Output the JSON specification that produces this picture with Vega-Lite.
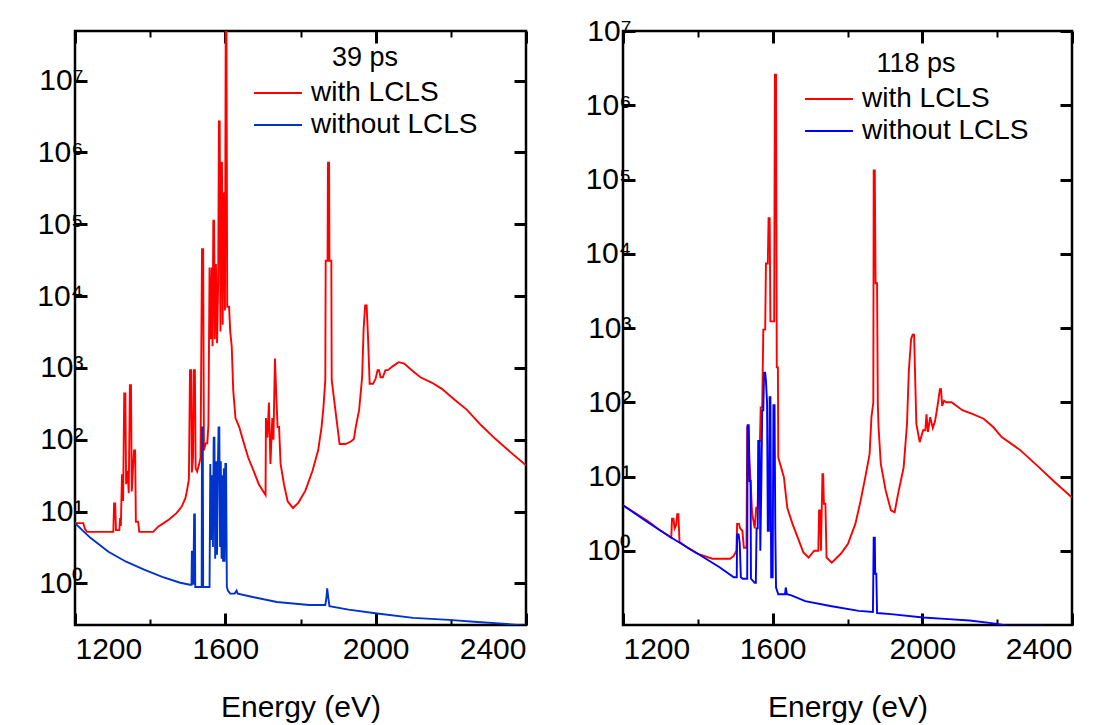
{
"$schema": "https://vega.github.io/schema/vega-lite/v6.json",
"background": "white",
"padding": {"left": 35, "top": 14, "right": 5, "bottom": 0},
"bounds": "flush",
"spacing": 97,
"resolve": {"scale": {"x": "independent", "y": "independent", "color": "independent"}, "legend": {"color": "independent"}},
"config": {
  "font": "Liberation Sans",
  "view": {"stroke": "black", "strokeWidth": 2.5},
  "axis": {"domain": false, "grid": false, "tickColor": "black", "tickCap": "butt", "labelColor": "black", "labelFont": "Liberation Sans", "labelFontSize": 30, "titleFont": "Liberation Sans", "titleFontSize": 30, "titleFontWeight": "normal", "titleColor": "black"},
  "legend": {"labelFont": "Liberation Sans", "titleFont": "Liberation Sans", "labelColor": "black", "titleColor": "black"}
},
"datasets": {
"left": [
{"E":1200,"I":6.9,"s":"with LCLS"},{"E":1222,"I":6.9,"s":"with LCLS"},{"E":1226,"I":5.8,"s":"with LCLS"},{"E":1232,"I":5.2,"s":"with LCLS"},{"E":1298,"I":5.2,"s":"with LCLS"},{"E":1302,"I":5.2,"s":"with LCLS"},{"E":1304,"I":13,"s":"with LCLS"},{"E":1307,"I":13,"s":"with LCLS"},{"E":1309,"I":5.5,"s":"with LCLS"},{"E":1318,"I":5.5,"s":"with LCLS"},{"E":1320,"I":8.1,"s":"with LCLS"},{"E":1322,"I":6.3,"s":"with LCLS"},{"E":1325,"I":33,"s":"with LCLS"},{"E":1328,"I":14,"s":"with LCLS"},{"E":1331,"I":440,"s":"with LCLS"},{"E":1334,"I":440,"s":"with LCLS"},{"E":1336,"I":24,"s":"with LCLS"},{"E":1340,"I":37,"s":"with LCLS"},{"E":1343,"I":18,"s":"with LCLS"},{"E":1346,"I":575,"s":"with LCLS"},{"E":1349,"I":575,"s":"with LCLS"},{"E":1351,"I":19,"s":"with LCLS"},{"E":1354,"I":37,"s":"with LCLS"},{"E":1357,"I":71,"s":"with LCLS"},{"E":1360,"I":71,"s":"with LCLS"},{"E":1362,"I":7.2,"s":"with LCLS"},{"E":1368,"I":7.2,"s":"with LCLS"},{"E":1371,"I":5.2,"s":"with LCLS"},{"E":1408,"I":5.2,"s":"with LCLS"},{"E":1422,"I":6.2,"s":"with LCLS"},{"E":1436,"I":6.9,"s":"with LCLS"},{"E":1451,"I":7.8,"s":"with LCLS"},{"E":1470,"I":9.5,"s":"with LCLS"},{"E":1484,"I":11.7,"s":"with LCLS"},{"E":1494,"I":15.5,"s":"with LCLS"},{"E":1499,"I":21,"s":"with LCLS"},{"E":1503,"I":28,"s":"with LCLS"},{"E":1506,"I":930,"s":"with LCLS"},{"E":1509,"I":930,"s":"with LCLS"},{"E":1511,"I":35,"s":"with LCLS"},{"E":1514,"I":56,"s":"with LCLS"},{"E":1516,"I":930,"s":"with LCLS"},{"E":1519,"I":930,"s":"with LCLS"},{"E":1521,"I":40,"s":"with LCLS"},{"E":1525,"I":36,"s":"with LCLS"},{"E":1530,"I":45,"s":"with LCLS"},{"E":1534,"I":56,"s":"with LCLS"},{"E":1538,"I":45000,"s":"with LCLS"},{"E":1541,"I":45000,"s":"with LCLS"},{"E":1543,"I":71,"s":"with LCLS"},{"E":1548,"I":89,"s":"with LCLS"},{"E":1552,"I":89,"s":"with LCLS"},{"E":1555,"I":160,"s":"with LCLS"},{"E":1558,"I":25000,"s":"with LCLS"},{"E":1561,"I":2500,"s":"with LCLS"},{"E":1564,"I":25000,"s":"with LCLS"},{"E":1566,"I":2000,"s":"with LCLS"},{"E":1568,"I":112000,"s":"with LCLS"},{"E":1570,"I":112000,"s":"with LCLS"},{"E":1572,"I":2500,"s":"with LCLS"},{"E":1575,"I":28000,"s":"with LCLS"},{"E":1578,"I":2200,"s":"with LCLS"},{"E":1581,"I":16000,"s":"with LCLS"},{"E":1583,"I":2700000,"s":"with LCLS"},{"E":1585,"I":2700000,"s":"with LCLS"},{"E":1587,"I":3200,"s":"with LCLS"},{"E":1589,"I":720000,"s":"with LCLS"},{"E":1591,"I":720000,"s":"with LCLS"},{"E":1593,"I":4000,"s":"with LCLS"},{"E":1595,"I":270000,"s":"with LCLS"},{"E":1597,"I":270000,"s":"with LCLS"},{"E":1599,"I":6300,"s":"with LCLS"},{"E":1601,"I":48000000,"s":"with LCLS"},{"E":1603,"I":48000000,"s":"with LCLS"},{"E":1605,"I":7100,"s":"with LCLS"},{"E":1610,"I":7100,"s":"with LCLS"},{"E":1613,"I":3200,"s":"with LCLS"},{"E":1617,"I":2000,"s":"with LCLS"},{"E":1621,"I":490,"s":"with LCLS"},{"E":1627,"I":200,"s":"with LCLS"},{"E":1637,"I":150,"s":"with LCLS"},{"E":1647,"I":98,"s":"with LCLS"},{"E":1661,"I":56,"s":"with LCLS"},{"E":1675,"I":37,"s":"with LCLS"},{"E":1689,"I":24,"s":"with LCLS"},{"E":1704,"I":18,"s":"with LCLS"},{"E":1707,"I":17,"s":"with LCLS"},{"E":1708,"I":200,"s":"with LCLS"},{"E":1712,"I":107,"s":"with LCLS"},{"E":1716,"I":330,"s":"with LCLS"},{"E":1720,"I":46,"s":"with LCLS"},{"E":1725,"I":200,"s":"with LCLS"},{"E":1728,"I":100,"s":"with LCLS"},{"E":1732,"I":1350,"s":"with LCLS"},{"E":1735,"I":490,"s":"with LCLS"},{"E":1739,"I":150,"s":"with LCLS"},{"E":1743,"I":150,"s":"with LCLS"},{"E":1747,"I":46,"s":"with LCLS"},{"E":1756,"I":24,"s":"with LCLS"},{"E":1766,"I":13.8,"s":"with LCLS"},{"E":1780,"I":11.2,"s":"with LCLS"},{"E":1794,"I":13.2,"s":"with LCLS"},{"E":1813,"I":19.5,"s":"with LCLS"},{"E":1832,"I":37,"s":"with LCLS"},{"E":1847,"I":71,"s":"with LCLS"},{"E":1856,"I":150,"s":"with LCLS"},{"E":1861,"I":280,"s":"with LCLS"},{"E":1866,"I":680,"s":"with LCLS"},{"E":1867,"I":31000,"s":"with LCLS"},{"E":1872,"I":31000,"s":"with LCLS"},{"E":1873,"I":720000,"s":"with LCLS"},{"E":1876,"I":720000,"s":"with LCLS"},{"E":1877,"I":31000,"s":"with LCLS"},{"E":1882,"I":31000,"s":"with LCLS"},{"E":1883,"I":680,"s":"with LCLS"},{"E":1894,"I":230,"s":"with LCLS"},{"E":1904,"I":87,"s":"with LCLS"},{"E":1920,"I":87,"s":"with LCLS"},{"E":1935,"I":95,"s":"with LCLS"},{"E":1942,"I":102,"s":"with LCLS"},{"E":1947,"I":150,"s":"with LCLS"},{"E":1956,"I":260,"s":"with LCLS"},{"E":1964,"I":740,"s":"with LCLS"},{"E":1968,"I":3500,"s":"with LCLS"},{"E":1972,"I":7400,"s":"with LCLS"},{"E":1976,"I":7400,"s":"with LCLS"},{"E":1980,"I":2400,"s":"with LCLS"},{"E":1984,"I":600,"s":"with LCLS"},{"E":1993,"I":600,"s":"with LCLS"},{"E":2000,"I":710,"s":"with LCLS"},{"E":2005,"I":930,"s":"with LCLS"},{"E":2009,"I":930,"s":"with LCLS"},{"E":2013,"I":740,"s":"with LCLS"},{"E":2019,"I":740,"s":"with LCLS"},{"E":2026,"I":930,"s":"with LCLS"},{"E":2033,"I":930,"s":"with LCLS"},{"E":2045,"I":1050,"s":"with LCLS"},{"E":2061,"I":1200,"s":"with LCLS"},{"E":2076,"I":1150,"s":"with LCLS"},{"E":2100,"I":890,"s":"with LCLS"},{"E":2119,"I":740,"s":"with LCLS"},{"E":2150,"I":620,"s":"with LCLS"},{"E":2176,"I":510,"s":"with LCLS"},{"E":2210,"I":360,"s":"with LCLS"},{"E":2243,"I":260,"s":"with LCLS"},{"E":2280,"I":160,"s":"with LCLS"},{"E":2319,"I":102,"s":"with LCLS"},{"E":2360,"I":66,"s":"with LCLS"},{"E":2400,"I":44,"s":"with LCLS"},
{"E":1200,"I":6.9,"s":"without LCLS"},{"E":1241,"I":4.3,"s":"without LCLS"},{"E":1289,"I":2.75,"s":"without LCLS"},{"E":1336,"I":2.0,"s":"without LCLS"},{"E":1384,"I":1.55,"s":"without LCLS"},{"E":1432,"I":1.23,"s":"without LCLS"},{"E":1480,"I":1.02,"s":"without LCLS"},{"E":1506,"I":0.955,"s":"without LCLS"},{"E":1510,"I":0.955,"s":"without LCLS"},{"E":1511,"I":2.75,"s":"without LCLS"},{"E":1514,"I":2.75,"s":"without LCLS"},{"E":1515,"I":0.955,"s":"without LCLS"},{"E":1517,"I":9.1,"s":"without LCLS"},{"E":1519,"I":9.1,"s":"without LCLS"},{"E":1520,"I":0.89,"s":"without LCLS"},{"E":1537,"I":0.89,"s":"without LCLS"},{"E":1538,"I":148,"s":"without LCLS"},{"E":1540,"I":148,"s":"without LCLS"},{"E":1541,"I":0.89,"s":"without LCLS"},{"E":1558,"I":0.89,"s":"without LCLS"},{"E":1560,"I":46,"s":"without LCLS"},{"E":1562,"I":4.0,"s":"without LCLS"},{"E":1565,"I":32,"s":"without LCLS"},{"E":1567,"I":3.2,"s":"without LCLS"},{"E":1569,"I":107,"s":"without LCLS"},{"E":1571,"I":107,"s":"without LCLS"},{"E":1573,"I":2.2,"s":"without LCLS"},{"E":1576,"I":50,"s":"without LCLS"},{"E":1578,"I":2.5,"s":"without LCLS"},{"E":1580,"I":35,"s":"without LCLS"},{"E":1582,"I":148,"s":"without LCLS"},{"E":1584,"I":148,"s":"without LCLS"},{"E":1586,"I":3.2,"s":"without LCLS"},{"E":1588,"I":50,"s":"without LCLS"},{"E":1590,"I":2.2,"s":"without LCLS"},{"E":1592,"I":32,"s":"without LCLS"},{"E":1594,"I":2.0,"s":"without LCLS"},{"E":1596,"I":40,"s":"without LCLS"},{"E":1598,"I":2.0,"s":"without LCLS"},{"E":1600,"I":46,"s":"without LCLS"},{"E":1602,"I":46,"s":"without LCLS"},{"E":1604,"I":0.89,"s":"without LCLS"},{"E":1607,"I":0.79,"s":"without LCLS"},{"E":1613,"I":0.72,"s":"without LCLS"},{"E":1625,"I":0.72,"s":"without LCLS"},{"E":1630,"I":0.79,"s":"without LCLS"},{"E":1633,"I":0.72,"s":"without LCLS"},{"E":1670,"I":0.65,"s":"without LCLS"},{"E":1737,"I":0.55,"s":"without LCLS"},{"E":1823,"I":0.5,"s":"without LCLS"},{"E":1866,"I":0.5,"s":"without LCLS"},{"E":1869,"I":0.63,"s":"without LCLS"},{"E":1871,"I":0.85,"s":"without LCLS"},{"E":1874,"I":0.63,"s":"without LCLS"},{"E":1877,"I":0.48,"s":"without LCLS"},{"E":1928,"I":0.43,"s":"without LCLS"},{"E":2004,"I":0.38,"s":"without LCLS"},{"E":2100,"I":0.33,"s":"without LCLS"},{"E":2195,"I":0.31,"s":"without LCLS"},{"E":2271,"I":0.29,"s":"without LCLS"},{"E":2338,"I":0.275,"s":"without LCLS"},{"E":2400,"I":0.257,"s":"without LCLS"}
],
"right": [
{"E":1200,"I":4.1,"s":"with LCLS"},{"E":1238,"I":3.1,"s":"with LCLS"},{"E":1267,"I":2.5,"s":"with LCLS"},{"E":1295,"I":1.95,"s":"with LCLS"},{"E":1329,"I":1.5,"s":"with LCLS"},{"E":1331,"I":2.7,"s":"with LCLS"},{"E":1335,"I":2.7,"s":"with LCLS"},{"E":1338,"I":2.0,"s":"with LCLS"},{"E":1342,"I":2.2,"s":"with LCLS"},{"E":1345,"I":3.1,"s":"with LCLS"},{"E":1348,"I":3.1,"s":"with LCLS"},{"E":1351,"I":1.32,"s":"with LCLS"},{"E":1372,"I":1.1,"s":"with LCLS"},{"E":1400,"I":0.91,"s":"with LCLS"},{"E":1439,"I":0.78,"s":"with LCLS"},{"E":1486,"I":0.78,"s":"with LCLS"},{"E":1496,"I":0.85,"s":"with LCLS"},{"E":1503,"I":1.0,"s":"with LCLS"},{"E":1505,"I":2.3,"s":"with LCLS"},{"E":1510,"I":2.3,"s":"with LCLS"},{"E":1513,"I":2.0,"s":"with LCLS"},{"E":1519,"I":1.86,"s":"with LCLS"},{"E":1523,"I":1.1,"s":"with LCLS"},{"E":1530,"I":1.1,"s":"with LCLS"},{"E":1532,"I":46,"s":"with LCLS"},{"E":1535,"I":46,"s":"with LCLS"},{"E":1538,"I":16,"s":"with LCLS"},{"E":1541,"I":8.7,"s":"with LCLS"},{"E":1545,"I":3.2,"s":"with LCLS"},{"E":1552,"I":2.0,"s":"with LCLS"},{"E":1556,"I":3.8,"s":"with LCLS"},{"E":1560,"I":3.8,"s":"with LCLS"},{"E":1562,"I":30,"s":"with LCLS"},{"E":1566,"I":30,"s":"with LCLS"},{"E":1568,"I":85,"s":"with LCLS"},{"E":1572,"I":85,"s":"with LCLS"},{"E":1575,"I":950,"s":"with LCLS"},{"E":1580,"I":950,"s":"with LCLS"},{"E":1582,"I":7400,"s":"with LCLS"},{"E":1587,"I":7400,"s":"with LCLS"},{"E":1589,"I":30000,"s":"with LCLS"},{"E":1592,"I":30000,"s":"with LCLS"},{"E":1594,"I":1230,"s":"with LCLS"},{"E":1604,"I":1230,"s":"with LCLS"},{"E":1606,"I":2570000,"s":"with LCLS"},{"E":1609,"I":2570000,"s":"with LCLS"},{"E":1611,"I":295,"s":"with LCLS"},{"E":1614,"I":295,"s":"with LCLS"},{"E":1615,"I":18,"s":"with LCLS"},{"E":1630,"I":9.8,"s":"with LCLS"},{"E":1639,"I":3.8,"s":"with LCLS"},{"E":1653,"I":2.3,"s":"with LCLS"},{"E":1667,"I":1.5,"s":"with LCLS"},{"E":1682,"I":0.95,"s":"with LCLS"},{"E":1696,"I":0.81,"s":"with LCLS"},{"E":1711,"I":1.0,"s":"with LCLS"},{"E":1722,"I":1.0,"s":"with LCLS"},{"E":1724,"I":3.5,"s":"with LCLS"},{"E":1727,"I":3.5,"s":"with LCLS"},{"E":1729,"I":1.0,"s":"with LCLS"},{"E":1733,"I":10.7,"s":"with LCLS"},{"E":1735,"I":10.7,"s":"with LCLS"},{"E":1737,"I":4.3,"s":"with LCLS"},{"E":1741,"I":4.3,"s":"with LCLS"},{"E":1744,"I":0.81,"s":"with LCLS"},{"E":1758,"I":0.69,"s":"with LCLS"},{"E":1782,"I":0.91,"s":"with LCLS"},{"E":1801,"I":1.23,"s":"with LCLS"},{"E":1821,"I":2.3,"s":"with LCLS"},{"E":1835,"I":4.7,"s":"with LCLS"},{"E":1849,"I":10.7,"s":"with LCLS"},{"E":1859,"I":20,"s":"with LCLS"},{"E":1864,"I":63,"s":"with LCLS"},{"E":1869,"I":100,"s":"with LCLS"},{"E":1870,"I":132000,"s":"with LCLS"},{"E":1873,"I":132000,"s":"with LCLS"},{"E":1875,"I":4000,"s":"with LCLS"},{"E":1879,"I":4000,"s":"with LCLS"},{"E":1881,"I":95,"s":"with LCLS"},{"E":1883,"I":46,"s":"with LCLS"},{"E":1889,"I":14.8,"s":"with LCLS"},{"E":1902,"I":6.5,"s":"with LCLS"},{"E":1916,"I":3.5,"s":"with LCLS"},{"E":1926,"I":3.3,"s":"with LCLS"},{"E":1935,"I":5.8,"s":"with LCLS"},{"E":1950,"I":13.2,"s":"with LCLS"},{"E":1959,"I":51,"s":"with LCLS"},{"E":1964,"I":270,"s":"with LCLS"},{"E":1970,"I":710,"s":"with LCLS"},{"E":1974,"I":810,"s":"with LCLS"},{"E":1978,"I":810,"s":"with LCLS"},{"E":1981,"I":200,"s":"with LCLS"},{"E":1984,"I":51,"s":"with LCLS"},{"E":1993,"I":29,"s":"with LCLS"},{"E":2002,"I":42,"s":"with LCLS"},{"E":2008,"I":42,"s":"with LCLS"},{"E":2011,"I":69,"s":"with LCLS"},{"E":2015,"I":40,"s":"with LCLS"},{"E":2021,"I":63,"s":"with LCLS"},{"E":2028,"I":45,"s":"with LCLS"},{"E":2034,"I":56,"s":"with LCLS"},{"E":2040,"I":85,"s":"with LCLS"},{"E":2047,"I":150,"s":"with LCLS"},{"E":2050,"I":150,"s":"with LCLS"},{"E":2053,"I":89,"s":"with LCLS"},{"E":2058,"I":105,"s":"with LCLS"},{"E":2064,"I":100,"s":"with LCLS"},{"E":2078,"I":100,"s":"with LCLS"},{"E":2107,"I":78,"s":"with LCLS"},{"E":2135,"I":69,"s":"with LCLS"},{"E":2164,"I":60,"s":"with LCLS"},{"E":2190,"I":46,"s":"with LCLS"},{"E":2212,"I":34,"s":"with LCLS"},{"E":2260,"I":23,"s":"with LCLS"},{"E":2307,"I":14,"s":"with LCLS"},{"E":2355,"I":8.3,"s":"with LCLS"},{"E":2400,"I":5.2,"s":"with LCLS"},
{"E":1200,"I":4.1,"s":"without LCLS"},{"E":1267,"I":2.4,"s":"without LCLS"},{"E":1334,"I":1.45,"s":"without LCLS"},{"E":1400,"I":0.91,"s":"without LCLS"},{"E":1458,"I":0.6,"s":"without LCLS"},{"E":1496,"I":0.44,"s":"without LCLS"},{"E":1504,"I":0.44,"s":"without LCLS"},{"E":1505,"I":1.66,"s":"without LCLS"},{"E":1509,"I":1.66,"s":"without LCLS"},{"E":1512,"I":1.26,"s":"without LCLS"},{"E":1515,"I":0.44,"s":"without LCLS"},{"E":1520,"I":0.42,"s":"without LCLS"},{"E":1532,"I":0.42,"s":"without LCLS"},{"E":1533,"I":49,"s":"without LCLS"},{"E":1536,"I":49,"s":"without LCLS"},{"E":1538,"I":8.7,"s":"without LCLS"},{"E":1541,"I":8.7,"s":"without LCLS"},{"E":1542,"I":0.42,"s":"without LCLS"},{"E":1552,"I":0.37,"s":"without LCLS"},{"E":1555,"I":0.37,"s":"without LCLS"},{"E":1557,"I":2.0,"s":"without LCLS"},{"E":1560,"I":2.0,"s":"without LCLS"},{"E":1562,"I":30,"s":"without LCLS"},{"E":1565,"I":30,"s":"without LCLS"},{"E":1567,"I":1.0,"s":"without LCLS"},{"E":1570,"I":10,"s":"without LCLS"},{"E":1572,"I":78,"s":"without LCLS"},{"E":1575,"I":78,"s":"without LCLS"},{"E":1577,"I":250,"s":"without LCLS"},{"E":1580,"I":250,"s":"without LCLS"},{"E":1582,"I":195,"s":"without LCLS"},{"E":1585,"I":100,"s":"without LCLS"},{"E":1587,"I":1.86,"s":"without LCLS"},{"E":1590,"I":1.86,"s":"without LCLS"},{"E":1592,"I":117,"s":"without LCLS"},{"E":1594,"I":117,"s":"without LCLS"},{"E":1596,"I":0.44,"s":"without LCLS"},{"E":1600,"I":0.44,"s":"without LCLS"},{"E":1602,"I":91,"s":"without LCLS"},{"E":1605,"I":91,"s":"without LCLS"},{"E":1607,"I":2.0,"s":"without LCLS"},{"E":1609,"I":0.32,"s":"without LCLS"},{"E":1615,"I":0.26,"s":"without LCLS"},{"E":1633,"I":0.26,"s":"without LCLS"},{"E":1635,"I":0.32,"s":"without LCLS"},{"E":1638,"I":0.26,"s":"without LCLS"},{"E":1650,"I":0.25,"s":"without LCLS"},{"E":1687,"I":0.21,"s":"without LCLS"},{"E":1754,"I":0.18,"s":"without LCLS"},{"E":1830,"I":0.155,"s":"without LCLS"},{"E":1868,"I":0.15,"s":"without LCLS"},{"E":1870,"I":1.5,"s":"without LCLS"},{"E":1873,"I":1.5,"s":"without LCLS"},{"E":1874,"I":0.49,"s":"without LCLS"},{"E":1877,"I":0.49,"s":"without LCLS"},{"E":1879,"I":0.145,"s":"without LCLS"},{"E":1916,"I":0.14,"s":"without LCLS"},{"E":2002,"I":0.126,"s":"without LCLS"},{"E":2070,"I":0.12,"s":"without LCLS"},{"E":2126,"I":0.115,"s":"without LCLS"},{"E":2180,"I":0.107,"s":"without LCLS"},{"E":2231,"I":0.098,"s":"without LCLS"},{"E":2322,"I":0.098,"s":"without LCLS"}
]
},
"hconcat": [
{
  "width": 451, "height": 594,
  "data": {"name": "left"},
  "resolve": {"axis": {"x": "independent", "y": "independent"}},
  "layer": [
    {"mark": {"type": "point", "opacity": 0},
     "encoding": {
       "x": {"field": "E", "type": "quantitative", "scale": {"domain": [1200, 2400], "nice": false, "zero": false}, "axis": {"orient": "top", "values": [1200, 1600, 2000, 2400], "labels": false, "tickSize": -12, "tickWidth": 3, "title": null}},
       "y": {"field": "I", "type": "quantitative", "scale": {"type": "log", "domain": [0.263, 49000000], "nice": false}, "axis": {"orient": "right", "values": [1, 10, 100, 1000, 10000, 100000, 1000000, 10000000], "labels": false, "tickSize": -12, "tickWidth": 3, "title": null}}}},
    {"mark": {"type": "point", "opacity": 0},
     "encoding": {
       "x": {"field": "E", "type": "quantitative", "scale": {"domain": [1200, 2400], "nice": false, "zero": false}, "axis": {"orient": "top", "values": [1400, 1800, 2200], "labels": false, "tickSize": -6, "tickWidth": 2, "title": null}},
       "y": {"field": "I", "type": "quantitative", "scale": {"type": "log", "domain": [0.263, 49000000], "nice": false}, "axis": null}}},
    {"mark": {"type": "point", "opacity": 0},
     "encoding": {
       "x": {"field": "E", "type": "quantitative", "scale": {"domain": [1200, 2400], "nice": false, "zero": false}, "axis": {"orient": "bottom", "values": [1400, 1800, 2200], "labels": false, "tickSize": -6, "tickWidth": 2, "title": null}},
       "y": {"field": "I", "type": "quantitative", "scale": {"type": "log", "domain": [0.263, 49000000], "nice": false}, "axis": null}}},
    {"mark": {"type": "line", "strokeWidth": 1.9, "clip": true},
     "encoding": {
       "x": {"field": "E", "type": "quantitative", "scale": {"domain": [1200, 2400], "nice": false, "zero": false}, "axis": {"orient": "bottom", "values": [1200, 1600, 2000, 2400], "format": "d", "tickSize": -12, "tickWidth": 3, "labelPadding": 21, "title": "Energy (eV)", "titlePadding": 28}},
       "y": {"field": "I", "type": "quantitative", "scale": {"type": "log", "domain": [0.263, 49000000], "nice": false}, "axis": {"orient": "left", "values": [1, 10, 100, 1000, 10000, 100000, 1000000, 10000000], "tickSize": -12, "tickWidth": 3, "labelPadding": 4, "title": null, "labelExpr": "'10' + ['⁰','¹','²','³','⁴','⁵','⁶','⁷'][round(log(datum.value)/LN10)]"}},
       "color": {"field": "s", "type": "nominal", "scale": {"domain": ["with LCLS", "without LCLS"], "range": ["#ff0000", "#0033cc"]},
         "legend": {"title": "39 ps", "orient": "none", "legendX": 178, "legendY": 14, "symbolType": "stroke", "symbolStrokeWidth": 2, "symbolSize": 2300, "labelFontSize": 28, "labelLimit": 400, "titleFontSize": 27, "titleFontWeight": "normal", "titleAnchor": "middle", "labelOffset": 8, "rowPadding": 0, "clipHeight": 32, "padding": 0}}}}
  ]
},
{
  "width": 449, "height": 594,
  "data": {"name": "right"},
  "resolve": {"axis": {"x": "independent", "y": "independent"}},
  "layer": [
    {"mark": {"type": "point", "opacity": 0},
     "encoding": {
       "x": {"field": "E", "type": "quantitative", "scale": {"domain": [1200, 2400], "nice": false, "zero": false}, "axis": {"orient": "top", "values": [1200, 1600, 2000, 2400], "labels": false, "tickSize": -12, "tickWidth": 3, "title": null}},
       "y": {"field": "I", "type": "quantitative", "scale": {"type": "log", "domain": [0.1, 10000000], "nice": false}, "axis": {"orient": "right", "values": [1, 10, 100, 1000, 10000, 100000, 1000000, 10000000], "labels": false, "tickSize": -12, "tickWidth": 3, "title": null}}}},
    {"mark": {"type": "point", "opacity": 0},
     "encoding": {
       "x": {"field": "E", "type": "quantitative", "scale": {"domain": [1200, 2400], "nice": false, "zero": false}, "axis": {"orient": "top", "values": [1400, 1800, 2200], "labels": false, "tickSize": -6, "tickWidth": 2, "title": null}},
       "y": {"field": "I", "type": "quantitative", "scale": {"type": "log", "domain": [0.1, 10000000], "nice": false}, "axis": null}}},
    {"mark": {"type": "point", "opacity": 0},
     "encoding": {
       "x": {"field": "E", "type": "quantitative", "scale": {"domain": [1200, 2400], "nice": false, "zero": false}, "axis": {"orient": "bottom", "values": [1400, 1800, 2200], "labels": false, "tickSize": -6, "tickWidth": 2, "title": null}},
       "y": {"field": "I", "type": "quantitative", "scale": {"type": "log", "domain": [0.1, 10000000], "nice": false}, "axis": null}}},
    {"mark": {"type": "line", "strokeWidth": 1.9, "clip": true},
     "encoding": {
       "x": {"field": "E", "type": "quantitative", "scale": {"domain": [1200, 2400], "nice": false, "zero": false}, "axis": {"orient": "bottom", "values": [1200, 1600, 2000, 2400], "format": "d", "tickSize": -12, "tickWidth": 3, "labelPadding": 21, "title": "Energy (eV)", "titlePadding": 28}},
       "y": {"field": "I", "type": "quantitative", "scale": {"type": "log", "domain": [0.1, 10000000], "nice": false}, "axis": {"orient": "left", "values": [1, 10, 100, 1000, 10000, 100000, 1000000, 10000000], "tickSize": -12, "tickWidth": 3, "labelPadding": 4, "title": null, "labelExpr": "'10' + ['⁰','¹','²','³','⁴','⁵','⁶','⁷'][round(log(datum.value)/LN10)]"}},
       "color": {"field": "s", "type": "nominal", "scale": {"domain": ["with LCLS", "without LCLS"], "range": ["#ff0000", "#0000ff"]},
         "legend": {"title": "118 ps", "orient": "none", "legendX": 181, "legendY": 20, "symbolType": "stroke", "symbolStrokeWidth": 2, "symbolSize": 2300, "labelFontSize": 28, "labelLimit": 400, "titleFontSize": 27, "titleFontWeight": "normal", "titleAnchor": "middle", "labelOffset": 8, "rowPadding": 0, "clipHeight": 32, "padding": 0}}}}
  ]
}
]
}
